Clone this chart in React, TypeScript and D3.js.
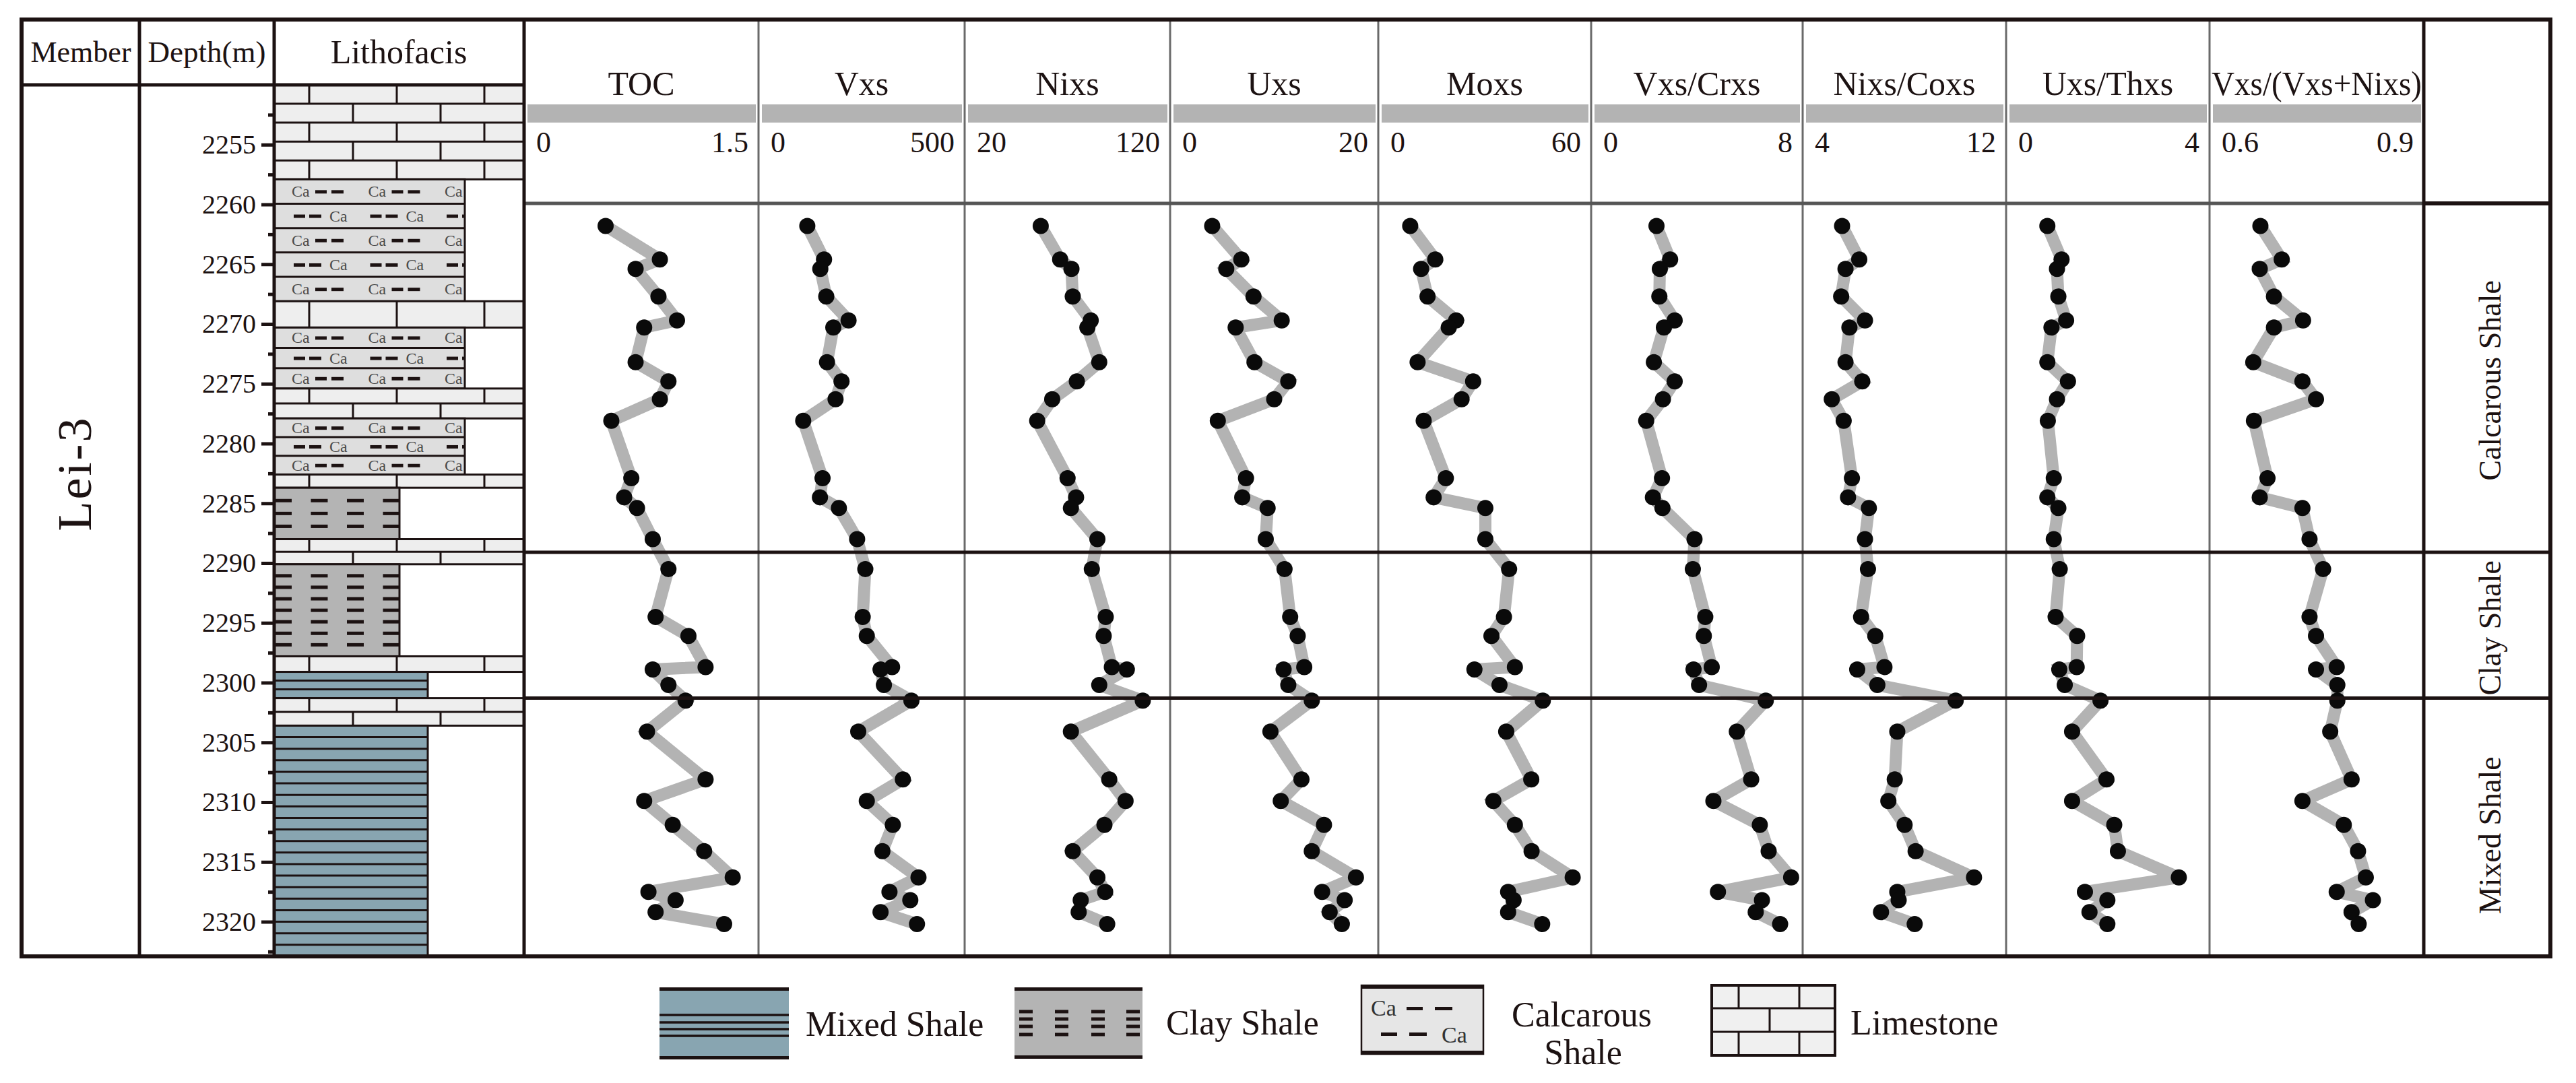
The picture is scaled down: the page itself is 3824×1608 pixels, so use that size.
import React, { useEffect, useRef } from "react";
import * as d3 from "d3";

// sample depths (m), shared by every geochemical track
const depths = [2261.8, 2264.6, 2265.4, 2267.7, 2269.7, 2270.3, 2273.2, 2274.8, 2276.3, 2278.1, 2282.9, 2284.5, 2285.4, 2288.0, 2290.5, 2294.5, 2296.1, 2298.7, 2298.9, 2300.2, 2301.5, 2304.1, 2308.1, 2309.9, 2311.9, 2314.1, 2316.3, 2317.5, 2318.2, 2319.2, 2320.2];

const toc = [0.5, 0.88, 0.71, 0.87, 1.0, 0.77, 0.71, 0.94, 0.88, 0.54, 0.68, 0.63, 0.72, 0.83, 0.94, 0.85, 1.08, 1.2, 0.83, 0.94, 1.06, 0.79, 1.2, 0.77, 0.97, 1.19, 1.39, 0.8, 0.99, 0.85, 1.33];
const vxs = [104, 149, 139, 155, 215, 174, 157, 196, 180, 93, 145, 138, 189, 238, 260, 253, 264, 332, 301, 310, 384, 241, 361, 264, 334, 306, 403, 325, 381, 301, 399];
const nixs = [55.6, 66.1, 72.2, 72.9, 82.6, 80.8, 87.2, 75.1, 61.8, 53.7, 70.1, 74.7, 71.9, 86.2, 83.2, 90.7, 89.6, 94.0, 102.1, 87.2, 110.7, 71.9, 92.6, 101.4, 90.0, 72.9, 86.2, 90.4, 77.2, 76.1, 91.5];
const uxs = [3.4, 6.5, 4.9, 7.8, 10.8, 5.9, 7.9, 11.5, 10.0, 4.0, 7.0, 6.6, 9.3, 9.1, 11.1, 11.7, 12.5, 13.2, 11.0, 11.5, 14.0, 9.6, 12.9, 10.7, 15.3, 14.0, 18.7, 15.1, 17.5, 15.9, 17.2];
const moxs = [6.8, 14.6, 10.2, 12.2, 21.1, 18.8, 9.1, 26.4, 22.8, 11.0, 17.9, 14.1, 30.2, 30.2, 37.6, 36.0, 32.1, 39.4, 26.8, 34.6, 48.1, 36.7, 44.5, 32.7, 39.4, 44.6, 57.4, 37.3, 39.0, 37.3, 47.9];
const vCr = [2.31, 2.88, 2.45, 2.43, 3.07, 2.62, 2.2, 3.07, 2.58, 1.88, 2.54, 2.16, 2.56, 3.9, 3.83, 4.35, 4.29, 4.62, 3.86, 4.09, 6.88, 5.67, 6.27, 4.69, 6.63, 7.0, 7.94, 4.88, 6.72, 6.46, 7.48];
const niCo = [5.28, 6.03, 5.43, 5.24, 6.28, 5.6, 5.43, 6.16, 4.83, 5.35, 5.71, 5.54, 6.45, 6.28, 6.41, 6.11, 6.73, 7.13, 5.94, 6.82, 10.24, 7.69, 7.58, 7.3, 8.01, 8.49, 11.04, 7.69, 7.75, 6.98, 8.45];
const uTh = [0.68, 0.99, 0.89, 0.92, 1.09, 0.77, 0.68, 1.13, 0.89, 0.69, 0.82, 0.68, 0.92, 0.82, 0.95, 0.86, 1.33, 1.32, 0.94, 1.06, 1.84, 1.22, 1.97, 1.22, 2.14, 2.22, 3.55, 1.5, 1.99, 1.6, 1.99];
const vVNi = [0.663, 0.696, 0.662, 0.684, 0.729, 0.684, 0.652, 0.728, 0.749, 0.653, 0.674, 0.662, 0.728, 0.739, 0.76, 0.739, 0.749, 0.781, 0.749, 0.782, 0.782, 0.771, 0.804, 0.728, 0.792, 0.814, 0.826, 0.781, 0.837, 0.804, 0.815];

const trackTitles = ["TOC", "Vxs", "Nixs", "Uxs", "Moxs", "Vxs/Crxs", "Nixs/Coxs", "Uxs/Thxs", "Vxs/(Vxs+Nixs)"];
const trackDomains = [[0, 1.5], [0, 500], [20, 120], [0, 20], [0, 60], [0, 8], [4, 12], [0, 4], [0.6, 0.9]];
const trackTickLabels = [["0", "1.5"], ["0", "500"], ["20", "120"], ["0", "20"], ["0", "60"], ["0", "8"], ["4", "12"], ["0", "4"], ["0.6", "0.9"]];
const trackSeries = [toc, vxs, nixs, uxs, moxs, vCr, niCo, uTh, vVNi];

const depthMajor = d3.range(2255, 2321, 5);
const depthMinor = d3.range(2252.5, 2323, 5);

// lithology intervals (top, base, type, number of beds)
const lithTop = [2250, 2257.9, 2268.1, 2270.3, 2275.4, 2277.9, 2282.6, 2283.7, 2288.0, 2290.1, 2297.8, 2299.1, 2301.3, 2303.6];
const lithBase = [2257.9, 2268.1, 2270.3, 2275.4, 2277.9, 2282.6, 2283.7, 2288.0, 2290.1, 2297.8, 2299.1, 2301.3, 2303.6, 2322.9];
const lithType = ["limestone", "calc", "limestone", "calc", "limestone", "calc", "limestone", "clay", "limestone", "clay", "limestone", "mixed", "limestone", "mixed"];
const lithBeds = [5, 5, 1, 3, 2, 3, 1, 3, 2, 7, 1, 3, 2, 20];

const zoneNames = ["Calcarous Shale", "Clay Shale", "Mixed Shale"];
const zoneTops = [2259.9, 2289.1, 2301.3];
const zoneBases = [2289.1, 2301.3, 2322.9];

const W = 3824;
const H = 1608;
const INK = "#1c1212";
const SERIF = "'Liberation Serif', 'Times New Roman', serif";
const fills: Record<string, string> = { limestone: "#eeeeee", calc: "#dedede", clay: "#b4b4b4", mixed: "#88a5b1" };
const lithRight: Record<string, number> = { limestone: 778, calc: 690, clay: 593, mixed: 635 };
const trackEdges = [778, 1126, 1432, 1737, 2046, 2362, 2676, 2978, 3280, 3598];

function App() {
  const ref = useRef<SVGSVGElement>(null);

  useEffect(() => {
    const svg = d3.select(ref.current);
    svg.selectAll("*").remove();
    svg.append("rect").attr("width", W).attr("height", H).attr("fill", "#fff");

    const y = d3.scaleLinear().domain([2250, 2322.9]).range([126, 1420]);
    const defs = svg.append("defs");

    // ---- lithology column
    const litho = svg.append("g");
    lithTop.forEach((top, i) => {
      const type = lithType[i];
      const y0 = y(top);
      const y1 = y(lithBase[i]);
      const x0 = 407;
      const x1 = lithRight[type];
      const h = y1 - y0;
      const n = lithBeds[i];
      defs.append("clipPath").attr("id", `lith${i}`)
        .append("rect").attr("x", x0).attr("y", y0).attr("width", x1 - x0).attr("height", h);
      const g = litho.append("g").attr("clip-path", `url(#lith${i})`);
      g.append("rect").attr("x", x0).attr("y", y0).attr("width", x1 - x0).attr("height", h).attr("fill", fills[type]);

      for (let k = 0; k < n; k++) {
        const r0 = y0 + (k * h) / n;
        const r1 = y0 + ((k + 1) * h) / n;
        const rc = (r0 + r1) / 2;
        if (type === "limestone") {
          const offs = k % 2 === 0 ? [52, 182, 312] : [117, 247];
          offs.forEach((o) => {
            g.append("line").attr("x1", x0 + o).attr("x2", x0 + o).attr("y1", r0).attr("y2", r1)
              .attr("stroke", INK).attr("stroke-width", 3);
          });
          if (k > 0) g.append("line").attr("x1", x0).attr("x2", x1).attr("y1", r0).attr("y2", r0).attr("stroke", INK).attr("stroke-width", 3);
        } else if (type === "calc") {
          for (let p = 0; p < 3; p++) {
            const bx = 433 + p * 113.5;
            const caX = k % 2 === 0 ? bx : bx + 56;
            const dashes = k % 2 === 0 ? [[35, 52], [59, 77]] : [[3, 20], [26, 44]];
            g.append("text").attr("x", caX).attr("y", rc + 8).attr("font-family", SERIF).attr("font-size", 24)
              .attr("fill", "#4a4a4a").text("Ca");
            dashes.forEach(([a, b]) => {
              g.append("rect").attr("x", bx + a).attr("y", rc - 2).attr("width", b - a).attr("height", 5).attr("fill", INK);
            });
          }
          if (k > 0) g.append("line").attr("x1", x0).attr("x2", x1).attr("y1", r0).attr("y2", r0).attr("stroke", INK).attr("stroke-width", 3);
        } else if (type === "clay") {
          const ry = y0 + ((k + 1) * h) / (n + 1);
          for (let j = 0; j < 4; j++) {
            g.append("rect").attr("x", 408 + j * 53.5).attr("y", ry - 2.5).attr("width", 25).attr("height", 5).attr("fill", INK);
          }
        } else if (type === "mixed") {
          if (k > 0) g.append("line").attr("x1", x0).attr("x2", x1).attr("y1", r0).attr("y2", r0).attr("stroke", INK).attr("stroke-width", 3);
        }
      }
      litho.append("rect").attr("x", x0).attr("y", y0).attr("width", x1 - x0).attr("height", h)
        .attr("fill", "none").attr("stroke", INK).attr("stroke-width", 3);
    });

    // ---- depth axis
    const major = svg.append("g").attr("transform", "translate(407,0)")
      .call(d3.axisLeft(y).tickValues(depthMajor).tickSize(19).tickPadding(8).tickFormat(d3.format("d")));
    const minor = svg.append("g").attr("transform", "translate(407,0)")
      .call(d3.axisLeft(y).tickValues(depthMinor).tickSize(9).tickFormat(() => ""));
    [major, minor].forEach((a) => {
      a.select(".domain").remove();
      a.selectAll("line").attr("stroke", INK).attr("stroke-width", 5);
      a.selectAll("text").attr("font-family", SERIF).attr("font-size", 40).attr("fill", INK);
    });

    // ---- track grid
    const grid = svg.append("g");
    trackEdges.slice(1, -1).forEach((x) => {
      grid.append("line").attr("x1", x).attr("x2", x).attr("y1", 29).attr("y2", 1420).attr("stroke", "#6a6a6a").attr("stroke-width", 3);
    });
    grid.append("line").attr("x1", 778).attr("x2", 3598).attr("y1", 302).attr("y2", 302).attr("stroke", "#555").attr("stroke-width", 5);
    grid.append("line").attr("x1", 3598).attr("x2", 3786).attr("y1", 302).attr("y2", 302).attr("stroke", INK).attr("stroke-width", 6);

    // ---- tracks
    trackSeries.forEach((vals, c) => {
      const xl = trackEdges[c];
      const xr = trackEdges[c + 1];
      const x = d3.scaleLinear().domain(trackDomains[c]).range([xl + 15, xr - 15]);
      const g = svg.append("g");

      const title = g.append("text").attr("x", (xl + xr) / 2).attr("y", 141).attr("text-anchor", "middle")
        .attr("font-family", SERIF).attr("font-size", 50).attr("fill", INK).text(trackTitles[c]);
      const tl = (title.node() as SVGTextElement).getComputedTextLength();
      if (tl > xr - xl - 6) title.attr("textLength", xr - xl - 6).attr("lengthAdjust", "spacingAndGlyphs");

      g.append("rect").attr("x", xl + 5).attr("y", 155).attr("width", xr - xl - 9).attr("height", 27).attr("fill", "#b3b3b3");
      g.append("text").attr("x", x.range()[0] + 3).attr("y", 226).attr("font-family", SERIF).attr("font-size", 44)
        .attr("fill", INK).text(trackTickLabels[c][0]);
      g.append("text").attr("x", x.range()[1]).attr("y", 226).attr("text-anchor", "end").attr("font-family", SERIF)
        .attr("font-size", 44).attr("fill", INK).text(trackTickLabels[c][1]);

      const line = d3.line<number>().x((v) => x(v)).y((_, i) => y(depths[i]));
      g.append("path").attr("d", line(vals)).attr("fill", "none").attr("stroke", "#b3b3b3")
        .attr("stroke-width", 18).attr("stroke-linejoin", "miter").attr("stroke-miterlimit", 1.6);
      g.selectAll("circle").data(vals).join("circle")
        .attr("cx", (v) => x(v)).attr("cy", (_, i) => y(depths[i])).attr("r", 12).attr("fill", "#0a0a0a");
    });

    // ---- zone boundaries and labels
    zoneTops.slice(1).forEach((d) => {
      svg.append("line").attr("x1", 778).attr("x2", 3786).attr("y1", y(d)).attr("y2", y(d)).attr("stroke", INK).attr("stroke-width", 5);
    });
    zoneNames.forEach((name, i) => {
      const cy = (y(zoneTops[i]) + y(zoneBases[i])) / 2 + (i === 2 ? 12 : 4);
      svg.append("text").attr("transform", `translate(3712,${cy}) rotate(-90)`).attr("text-anchor", "middle")
        .attr("font-family", SERIF).attr("font-size", 46).attr("fill", INK).text(name);
    });

    // ---- frame and header
    const frame = svg.append("g").attr("stroke", INK).attr("fill", "none");
    [207, 407, 778, 3598].forEach((x) => {
      frame.append("line").attr("x1", x).attr("x2", x).attr("y1", 29).attr("y2", 1420).attr("stroke-width", 5);
    });
    frame.append("line").attr("x1", 32).attr("x2", 778).attr("y1", 126).attr("y2", 126).attr("stroke-width", 5);
    frame.append("rect").attr("x", 32).attr("y", 29).attr("width", 3786 - 32).attr("height", 1420 - 29).attr("stroke-width", 6);

    const hdr = [["Member", 120, 92, 44], ["Depth(m)", 307, 92, 45], ["Lithofacis", 592, 94, 50]];
    hdr.forEach(([t, x, yy, fs]) => {
      svg.append("text").attr("x", x).attr("y", yy).attr("text-anchor", "middle").attr("font-family", SERIF)
        .attr("font-size", fs).attr("fill", INK).text(t as string);
    });
    svg.append("text").attr("transform", "translate(135,703) rotate(-90)").attr("text-anchor", "middle")
      .attr("font-family", SERIF).attr("font-size", 72).attr("letter-spacing", 3).attr("fill", INK).text("Lei-3");

    // ---- legend
    const lg = svg.append("g");
    const bars = (x: number, yy: number, w: number, h: number) => {
      lg.append("rect").attr("x", x).attr("y", yy).attr("width", w).attr("height", 5).attr("fill", INK);
      lg.append("rect").attr("x", x).attr("y", yy + h - 5).attr("width", w).attr("height", 5).attr("fill", INK);
    };
    const label = (t: string, x: number, yy: number, anchor = "start") =>
      lg.append("text").attr("x", x).attr("y", yy).attr("text-anchor", anchor).attr("font-family", SERIF)
        .attr("font-size", 52).attr("fill", INK).text(t);

    // mixed shale
    lg.append("rect").attr("x", 979).attr("y", 1466).attr("width", 192).attr("height", 107).attr("fill", fills.mixed);
    bars(979, 1466, 192, 107);
    [1507, 1518, 1528, 1538].forEach((ly) => {
      lg.append("line").attr("x1", 979).attr("x2", 1171).attr("y1", ly).attr("y2", ly).attr("stroke", INK).attr("stroke-width", 3.5);
    });
    label("Mixed Shale", 1196, 1538);

    // clay shale
    lg.append("rect").attr("x", 1506).attr("y", 1466).attr("width", 190).attr("height", 106).attr("fill", fills.clay);
    bars(1506, 1466, 190, 106);
    [1502, 1513, 1524, 1536].forEach((ly) => {
      [1513, 1566, 1620, 1672].forEach((lx) => {
        lg.append("rect").attr("x", lx).attr("y", ly - 2.5).attr("width", 20).attr("height", 5).attr("fill", INK);
      });
    });
    label("Clay Shale", 1731, 1536);

    // calcareous shale
    lg.append("rect").attr("x", 2021).attr("y", 1463).attr("width", 181).attr("height", 102).attr("fill", "#e6e6e6")
      .attr("stroke", INK).attr("stroke-width", 2.5);
    bars(2021, 1463, 181, 102);
    lg.append("text").attr("x", 2035).attr("y", 1508).attr("font-family", SERIF).attr("font-size", 34).attr("fill", "#333").text("Ca");
    [[2088, 2112], [2130, 2156]].forEach(([a, b]) => lg.append("rect").attr("x", a).attr("y", 1495).attr("width", b - a).attr("height", 5).attr("fill", INK));
    [[2050, 2074], [2092, 2118]].forEach(([a, b]) => lg.append("rect").attr("x", a).attr("y", 1533).attr("width", b - a).attr("height", 5).attr("fill", INK));
    lg.append("text").attr("x", 2140).attr("y", 1548).attr("font-family", SERIF).attr("font-size", 34).attr("fill", "#333").text("Ca");
    label("Calcarous", 2348, 1524, "middle");
    label("Shale", 2350, 1580, "middle");

    // limestone
    lg.append("rect").attr("x", 2541).attr("y", 1463).attr("width", 183).attr("height", 104).attr("fill", "#f0f0f0")
      .attr("stroke", INK).attr("stroke-width", 4);
    [1497, 1532].forEach((ly) => {
      lg.append("line").attr("x1", 2541).attr("x2", 2724).attr("y1", ly).attr("y2", ly).attr("stroke", INK).attr("stroke-width", 3);
    });
    [[1463, 1497, [2581, 2671]], [1497, 1532, [2627]], [1532, 1567, [2581, 2671]]].forEach(([a, b, xs]) => {
      (xs as number[]).forEach((lx) => {
        lg.append("line").attr("x1", lx).attr("x2", lx).attr("y1", a as number).attr("y2", b as number).attr("stroke", INK).attr("stroke-width", 3);
      });
    });
    label("Limestone", 2747, 1536);
  }, []);

  return (
    <svg
      ref={ref}
      width={W}
      height={H}
      style={{ position: "absolute", left: 0, top: 0, display: "block" }}
    />
  );
}

export default App;
